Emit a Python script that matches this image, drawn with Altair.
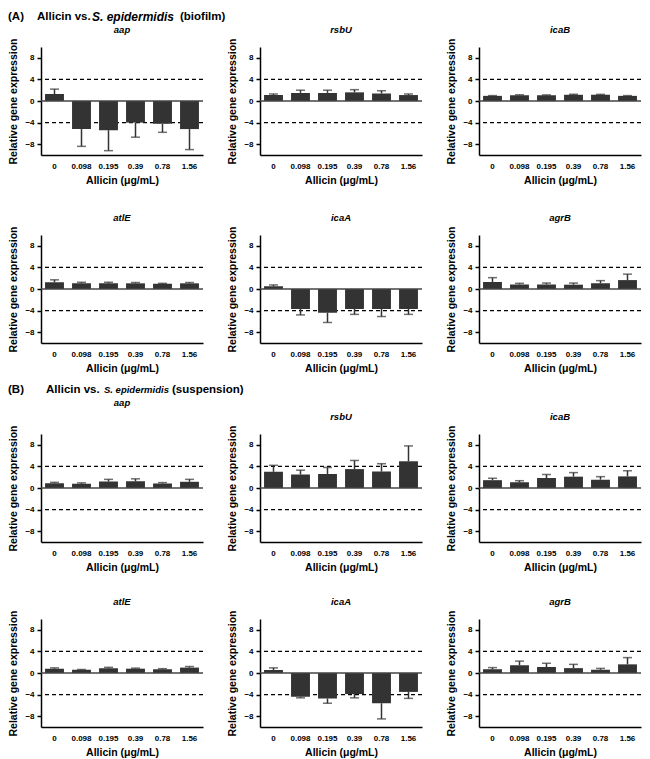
import altair as alt
import pandas as pd

FONT = "Liberation Sans"
DARK = "#333333"

conc_labels = ["0", "0.098", "0.195", "0.39", "0.78", "1.56"]
genes = ["aap", "rsbU", "icaB", "atlE", "icaA", "agrB"]
thresholds = [4, -4]
y_ticks = [-8, -4, 0, 4, 8]

# (A) biofilm: mean relative expression and SD
bio_aap = [1.3, -5.2, -5.4, -4.0, -4.2, -5.2]
bio_aap_sd = [0.9, 3.2, 3.8, 2.7, 1.6, 3.8]
bio_rsbU = [1.1, 1.5, 1.5, 1.6, 1.4, 1.1]
bio_rsbU_sd = [0.2, 0.5, 0.5, 0.5, 0.5, 0.2]
bio_icaB = [0.95, 1.05, 1.05, 1.15, 1.15, 0.95]
bio_icaB_sd = [0.05, 0.1, 0.08, 0.1, 0.08, 0.05]
bio_atlE = [1.25, 1.05, 1.05, 1.05, 0.95, 1.05]
bio_atlE_sd = [0.45, 0.2, 0.2, 0.15, 0.1, 0.15]
bio_icaA = [0.5, -3.7, -4.4, -3.7, -3.7, -3.7]
bio_icaA_sd = [0.25, 1.1, 1.8, 1.0, 1.4, 1.0]
bio_agrB = [1.3, 0.85, 0.85, 0.8, 1.05, 1.65]
bio_agrB_sd = [0.8, 0.2, 0.25, 0.3, 0.5, 1.1]

# (B) suspension
sus_aap = [0.9, 0.8, 1.2, 1.25, 0.85, 1.15]
sus_aap_sd = [0.15, 0.15, 0.4, 0.45, 0.15, 0.45]
sus_rsbU = [3.0, 2.5, 2.6, 3.5, 3.05, 4.95]
sus_rsbU_sd = [1.2, 0.8, 1.2, 1.6, 1.45, 2.85]
sus_icaB = [1.45, 1.05, 1.85, 2.1, 1.55, 2.15]
sus_icaB_sd = [0.35, 0.3, 0.65, 0.75, 0.55, 1.05]
sus_atlE = [0.8, 0.6, 0.9, 0.8, 0.7, 1.0]
sus_atlE_sd = [0.15, 0.05, 0.15, 0.1, 0.1, 0.2]
sus_icaA = [0.55, -4.4, -4.7, -3.9, -5.6, -3.5]
sus_icaA_sd = [0.4, 0.2, 0.9, 0.7, 2.9, 1.2]
sus_agrB = [0.7, 1.45, 1.1, 0.9, 0.6, 1.6]
sus_agrB_sd = [0.3, 0.75, 0.7, 0.7, 0.25, 1.25]

header_a = ["(A)", "Allicin vs.", "S. epidermidis", "(biofilm)"]
header_b = ["(B)", "Allicin vs.", "S. epidermidis", "(suspension)"]

W, H = 162, 108


def header_layers(pieces, xpos, y, sizes, styles):
    out = []
    for txt, xp, fs, st in zip(pieces, xpos, sizes, styles):
        out.append(
            alt.Chart(pd.DataFrame({"t": [txt]}))
            .mark_text(align="left", baseline="middle", fontSize=fs,
                       fontWeight="bold", fontStyle=st, font=FONT, color="black")
            .encode(text="t:N", x=alt.value(xp), y=alt.value(y))
        )
    return out


def panel(gene, means, sds, title_offset=3):
    df = pd.DataFrame({"conc": conc_labels, "mean": means, "sd": sds})
    df["end"] = [m + s if m >= 0 else m - s for m, s in zip(means, sds)]
    ys = alt.Scale(domain=[-10, 10], nice=False)
    xs = alt.X(
        "conc:N", sort=conc_labels,
        scale=alt.Scale(paddingInner=0.3, paddingOuter=0.15),
        axis=alt.Axis(title="Allicin (μg/mL)", labelAngle=0, ticks=False,
                      labelPadding=7, titlePadding=5, labelFontSize=8,
                      titleFontSize=10.5),
    )
    yaxis = alt.Axis(values=y_ticks, format="d", title="Relative gene expression",
                     tickSize=4, labelPadding=3, titlePadding=6,
                     labelFontSize=8, titleFontSize=10.5)
    base = alt.Chart(df)
    thr = (alt.Chart(pd.DataFrame({"thr": thresholds}))
           .mark_rule(color="black", strokeDash=[4, 3], strokeWidth=1.3)
           .encode(y=alt.Y("thr:Q", scale=ys, axis=yaxis)))
    bars = base.mark_bar(color=DARK).encode(
        x=xs, y=alt.Y("mean:Q", scale=ys, axis=yaxis))
    errs = base.mark_rule(color=DARK, strokeWidth=1.5).encode(
        x=xs, y=alt.Y("mean:Q", scale=ys, axis=yaxis), y2="end:Q")
    caps = base.mark_tick(color=DARK, thickness=1.5, size=9).encode(
        x=xs, y=alt.Y("end:Q", scale=ys, axis=yaxis))
    zero = (alt.Chart(pd.DataFrame({"z": [0]}))
            .mark_rule(color="#444444", strokeWidth=1.5)
            .encode(y=alt.Y("z:Q", scale=ys, axis=yaxis)))
    return alt.layer(thr, bars, errs, caps, zero).properties(
        width=W, height=H,
        title=alt.Title(gene, fontSize=9.5, fontStyle="italic", fontWeight="bold",
                        offset=title_offset, font=FONT, color="black"),
    )


def spacer(h, extra=None):
    base = (alt.Chart(pd.DataFrame({"s": [0]}))
            .mark_point(opacity=0)
            .encode(x=alt.value(0), y=alt.value(0)))
    if extra:
        return alt.layer(base, *extra).properties(width=1, height=h)
    return base.properties(width=1, height=h)


TOP = 36
GAP_B = 91
hdrA = header_layers(header_a, [-33, -4, 51, 139], TOP - 30,
                     [11.5, 11.5, 12, 11.5], ["normal", "normal", "italic", "normal"])
hdrB = header_layers(header_b, [-33, 5, 63, 131], GAP_B - 44,
                     [11.5, 11.5, 9.5, 11.5], ["normal", "normal", "italic", "normal"])

cells = [
    spacer(TOP, hdrA), spacer(TOP), spacer(TOP),
    panel("aap", bio_aap, bio_aap_sd),
    panel("rsbU", bio_rsbU, bio_rsbU_sd),
    panel("icaB", bio_icaB, bio_icaB_sd),
    spacer(80), spacer(80), spacer(80),
    panel("atlE", bio_atlE, bio_atlE_sd),
    panel("icaA", bio_icaA, bio_icaA_sd),
    panel("agrB", bio_agrB, bio_agrB_sd),
    spacer(GAP_B, hdrB), spacer(GAP_B), spacer(GAP_B),
    panel("aap", sus_aap, sus_aap_sd, title_offset=17),
    panel("rsbU", sus_rsbU, sus_rsbU_sd),
    panel("icaB", sus_icaB, sus_icaB_sd),
    spacer(77), spacer(77), spacer(77),
    panel("atlE", sus_atlE, sus_atlE_sd),
    panel("icaA", sus_icaA, sus_icaA_sd),
    panel("agrB", sus_agrB, sus_agrB_sd),
]

chart = (
    alt.concat(*cells, columns=3, spacing={"row": 0, "column": 57}, bounds="flush")
    .properties(padding=0)
    .configure(font=FONT)
    .configure_view(stroke=None)
    .configure_axis(grid=False, domainColor="black", domainWidth=1.5,
                    tickColor="black", tickWidth=1.5, labelColor="black",
                    titleColor="black", labelFont=FONT, titleFont=FONT,
                    labelFontWeight="bold", titleFontWeight="bold")
)

chart.save("out.html", embed_options={"renderer": "svg", "actions": False})
